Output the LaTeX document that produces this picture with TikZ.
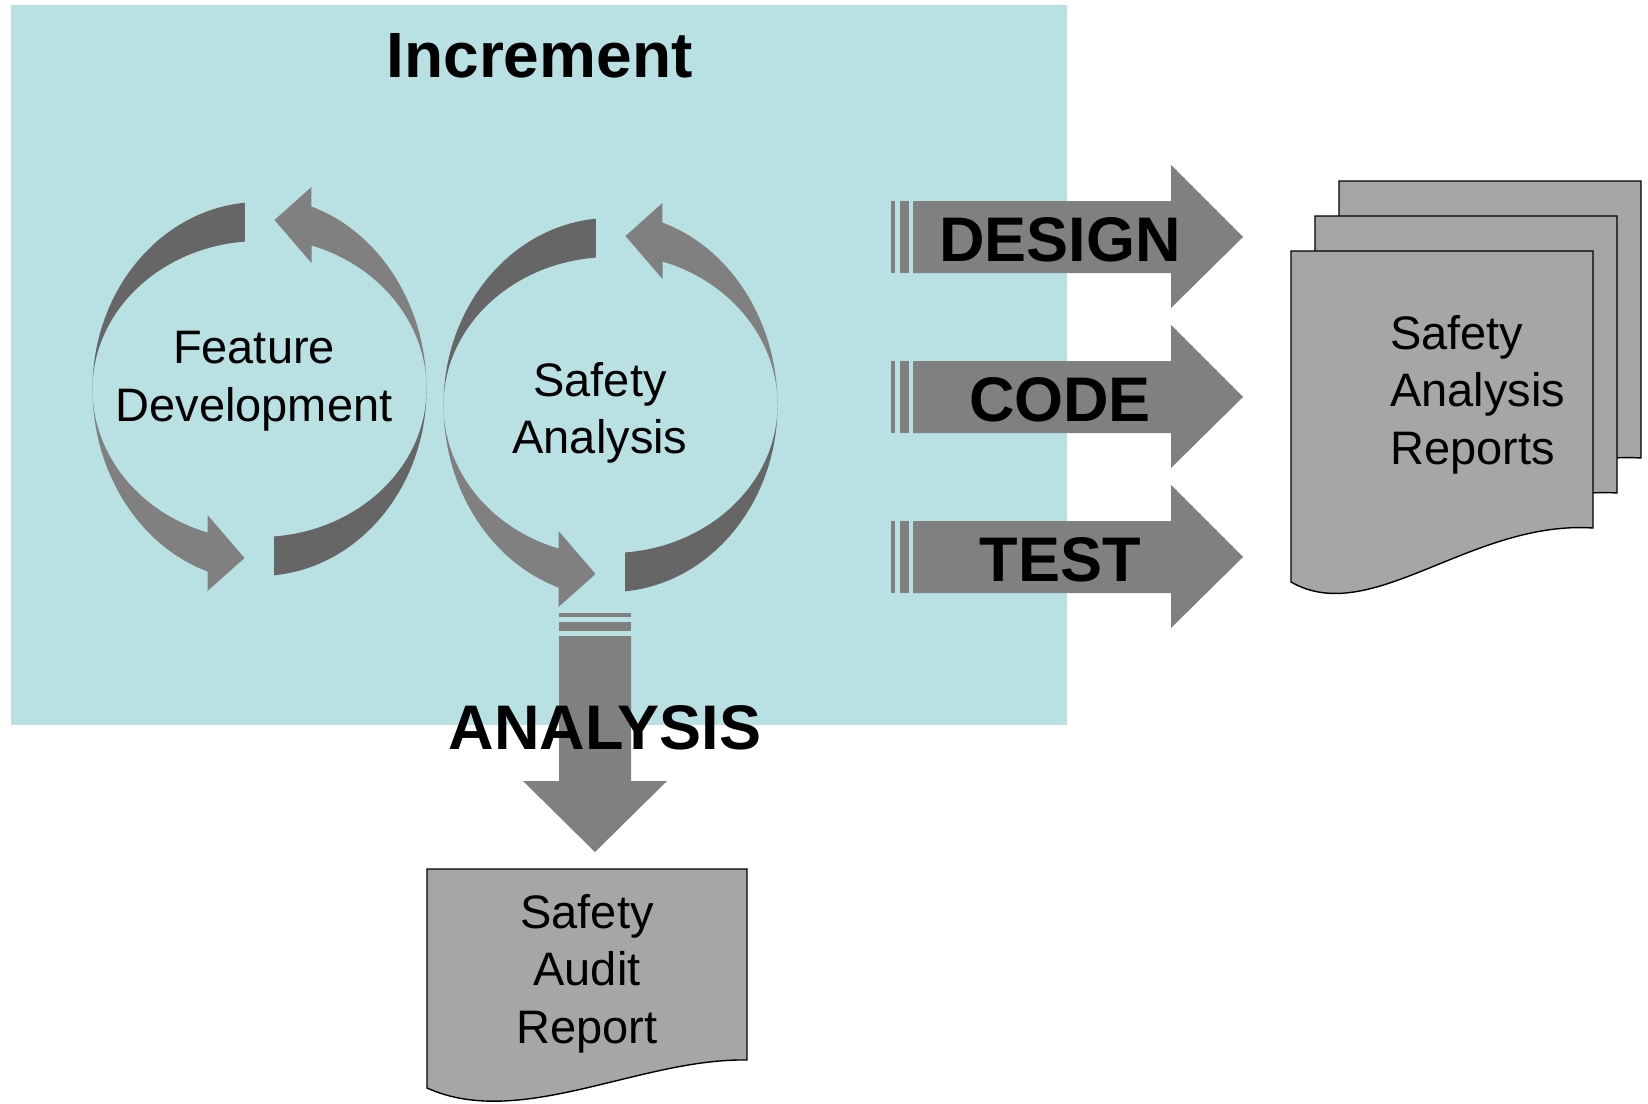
\documentclass[tikz,border=0pt]{standalone}
\usepackage{fontspec}
\setmainfont{Liberation Sans}
\definecolor{azzurro}{RGB}{185,224,227}
\definecolor{scuro}{RGB}{102,102,102}
\definecolor{grigio}{RGB}{128,128,128}
\definecolor{carta}{RGB}{166,166,166}
\begin{document}
\begin{tikzpicture}[x=1pt, y=-1pt,
    testo/.style={inner sep=0pt, align=center, font=\fontsize{47}{57.5}\selectfont},
    etichetta/.style={inner sep=0pt, font=\bfseries\fontsize{63}{63}\selectfont},
    foglio/.style={fill=carta, draw=black, line width=1.4pt}]
    % Riquadro della figura
    \useasboundingbox (0,0) rectangle (1648,1103);
    \fill[white] (0,0) rectangle (1648,1103);

    % Sfondo azzurro dell'incremento
    \fill[azzurro] (11,5) rectangle (1067,725);
    \node[etichetta, font=\bfseries\fontsize{64}{64}\selectfont, anchor=base] (incremento) at (539.5,77) {Increment};

    % Frecce circolari dei due cicli
    \foreach \cx/\cy in {259.5/389, 610.5/405} {
        % falce scura in alto a sinistra
        \fill[scuro] (\cx-14.6,\cy-186.3) arc[start angle=265, end angle=180, x radius=167, y radius=187]
            arc[start angle=180, end angle=265, x radius=167, y radius=148] -- cycle;
        % falce scura in basso a destra
        \fill[scuro] (\cx+14.6,\cy+186.3) arc[start angle=85, end angle=0, x radius=167, y radius=187]
            arc[start angle=0, end angle=85, x radius=167, y radius=148] -- cycle;
        % freccia chiara in alto
        \fill[grigio] (\cx+167,\cy) arc[start angle=0, end angle=-71.9, x radius=167, y radius=192]
            -- (\cx+52,\cy-202) -- (\cx+15,\cy-169) -- (\cx+52,\cy-126) -- (\cx+52,\cy-143.5)
            arc[start angle=-71.9, end angle=0, x radius=167, y radius=151] -- cycle;
        % freccia chiara in basso
        \fill[grigio] (\cx-167,\cy) arc[start angle=180, end angle=108.1, x radius=167, y radius=192]
            -- (\cx-52,\cy+202) -- (\cx-15,\cy+169) -- (\cx-52,\cy+126) -- (\cx-52,\cy+143.5)
            arc[start angle=108.1, end angle=180, x radius=167, y radius=151] -- cycle;
    }
    \node[testo, anchor=north] (sviluppo) at (254,331) {Feature\\Development};
    \node[testo, anchor=north] (analisi) at (600,362) {Safety\\Analysis};

    % Frecce a destra con le tre righe di coda
    \foreach \y/\nome/\scritta in {237/design/DESIGN, 397/code/CODE, 557/test/TEST} {
        \fill[grigio] (891,\y-36) rectangle (895,\y+36);
        \fill[grigio] (900,\y-36) rectangle (909,\y+36);
        \fill[grigio] (913,\y-36) -- (1171,\y-36) -- (1171,\y-72) -- (1243,\y)
            -- (1171,\y+71) -- (1171,\y+36) -- (913,\y+36) -- cycle;
        \node[etichetta, anchor=base] (\nome) at (1060,\y+24) {\scritta};
    }

    % Freccia verso il basso
    \fill[grigio] (559,613) rectangle (631,617);
    \fill[grigio] (559,622) rectangle (631,631);
    \fill[grigio] (559,636) -- (631,636) -- (631,781) -- (667,781) -- (595,852)
        -- (523,781) -- (559,781) -- cycle;
    \node[etichetta, anchor=base] (analysis) at (605,749) {ANALYSIS};

    % Pila di rapporti
    \foreach \d in {2,1,0} {
        \draw[foglio, shift={(24*\d,-35*\d)}] (1291,251) -- (1593,251) -- (1593,528)
            .. controls (1471,520) and (1371,628) .. (1291,582) -- cycle;
    }
    \node[testo, anchor=north west, align=left] (rapporti) at (1390,315) {Safety\\Analysis\\Reports};

    % Rapporto di audit
    \draw[foglio] (427,869) -- (747,869) -- (747,1060)
        .. controls (640,1058) and (520,1130) .. (427,1088) -- cycle;
    \node[testo, anchor=north] (audit) at (587,894) {Safety\\Audit\\Report};
\end{tikzpicture}
\end{document}
